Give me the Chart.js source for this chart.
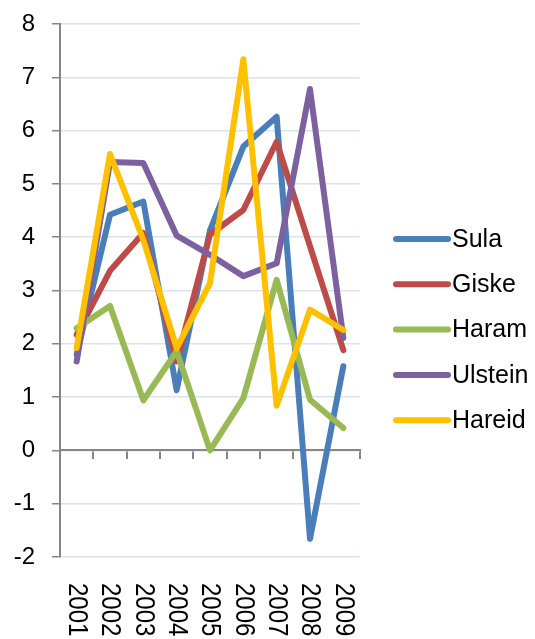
<!DOCTYPE html>
<html>
<head>
<meta charset="utf-8">
<script src="https://cdn.jsdelivr.net/npm/chart.js@4/dist/chart.umd.min.js"></script>
<style>
  html, body { margin: 0; padding: 0; background: #fff; }
  #wrap { width: 535px; height: 639px; }
</style>
</head>
<body>
<div id="wrap"><canvas id="chart" width="535" height="639"></canvas></div>
<script>
// datos
const years = ['2001', '2002', '2003', '2004', '2005', '2006', '2007', '2008', '2009'];
const sula    = [1.8, 4.42, 4.67, 1.13, 4.13, 5.70, 6.26, -1.66, 1.58];
const giske   = [2.17, 3.37, 4.08, 1.67, 4.05, 4.51, 5.79, 3.83, 1.88];
const haram   = [2.29, 2.71, 0.94, 1.86, 0.0, 0.98, 3.20, 0.95, 0.42];
const ulstein = [1.67, 5.41, 5.39, 4.03, 3.67, 3.27, 3.51, 6.78, 2.11];
const hareid  = [1.92, 5.56, 3.95, 1.92, 3.14, 7.34, 0.84, 2.64, 2.26];
const yTicks  = [-2, -1, 0, 1, 2, 3, 4, 5, 6, 7, 8];

const FONT = "'Liberation Sans', Arial, sans-serif";

function serie(label, data, color, order) {
    return {
        label: label,
        data: data,
        borderColor: color,
        backgroundColor: color,
        borderWidth: 6,
        borderJoinStyle: 'round',
        borderCapStyle: 'round',
        pointRadius: 0,
        tension: 0,
        order: order
    };
}

// etiquetas del eje X giradas 90° (de arriba hacia abajo)
const xLabelsPlugin = {
    id: 'xLabels',
    afterDraw(chart) {
        const ctx = chart.ctx;
        const x = chart.scales.x;
        ctx.save();
        ctx.font = '24px ' + FONT;
        ctx.fillStyle = '#000';
        ctx.textAlign = 'left';
        ctx.textBaseline = 'middle';
        years.forEach((y, i) => {
            ctx.save();
            ctx.translate(x.getPixelForValue(i), 583);
            ctx.rotate(Math.PI / 2);
            ctx.scale(1, 1.15);
            ctx.fillText(y, 0, 0);
            ctx.restore();
        });
        ctx.restore();
    }
};

// leyenda a la derecha
const legendPlugin = {
    id: 'sideLegend',
    afterDraw(chart) {
        const ctx = chart.ctx;
        ctx.save();
        ctx.font = '25px ' + FONT;
        ctx.textBaseline = 'middle';
        ctx.textAlign = 'left';
        chart.data.datasets.forEach((ds, i) => {
            const y = 239 + i * 45.3;
            ctx.strokeStyle = ds.borderColor;
            ctx.lineWidth = 6;
            ctx.lineCap = 'round';
            ctx.beginPath();
            ctx.moveTo(396, y);
            ctx.lineTo(448, y);
            ctx.stroke();
            ctx.fillStyle = '#000';
            ctx.fillText(ds.label, 452, y + 1);
        });
        ctx.restore();
    }
};

const ctx = document.getElementById('chart').getContext('2d');
new Chart(ctx, {
    type: 'line',
    data: {
        labels: years,
        datasets: [
            serie('Sula', sula, '#4a7ebb', 5),
            serie('Giske', giske, '#be4b48', 4),
            serie('Haram', haram, '#98b954', 3),
            serie('Ulstein', ulstein, '#7d60a0', 2),
            serie('Hareid', hareid, '#ffc000', 1)
        ]
    },
    options: {
        responsive: false,
        animation: false,
        layout: { padding: { left: 0, top: 24, right: 175, bottom: 82 } },
        plugins: {
            legend: { display: false },
            tooltip: { enabled: false }
        },
        scales: {
            x: {
                position: { y: 0 },
                offset: true,
                ticks: { display: false },
                grid: {
                    offset: true,
                    drawOnChartArea: false,
                    tickLength: 8,
                    tickColor: '#868686',
                    lineWidth: 2
                },
                border: { color: '#868686', width: 2 }
            },
            y: {
                min: -2,
                max: 8,
                afterBuildTicks(scale) {
                    scale.ticks = yTicks.map(v => ({ value: v }));
                },
                afterFit(scale) {
                    scale.width = 60;
                    scale.paddingTop = 0;
                    scale.paddingBottom = 0;
                },
                ticks: {
                    color: '#000',
                    padding: 17,
                    font: { family: FONT, size: 24 }
                },
                grid: {
                    color: '#dae4f0',
                    lineWidth: 1.5,
                    tickLength: 8,
                    tickColor: '#868686'
                },
                border: { color: '#868686', width: 2 }
            }
        }
    },
    plugins: [xLabelsPlugin, legendPlugin]
});
</script>
</body>
</html>
